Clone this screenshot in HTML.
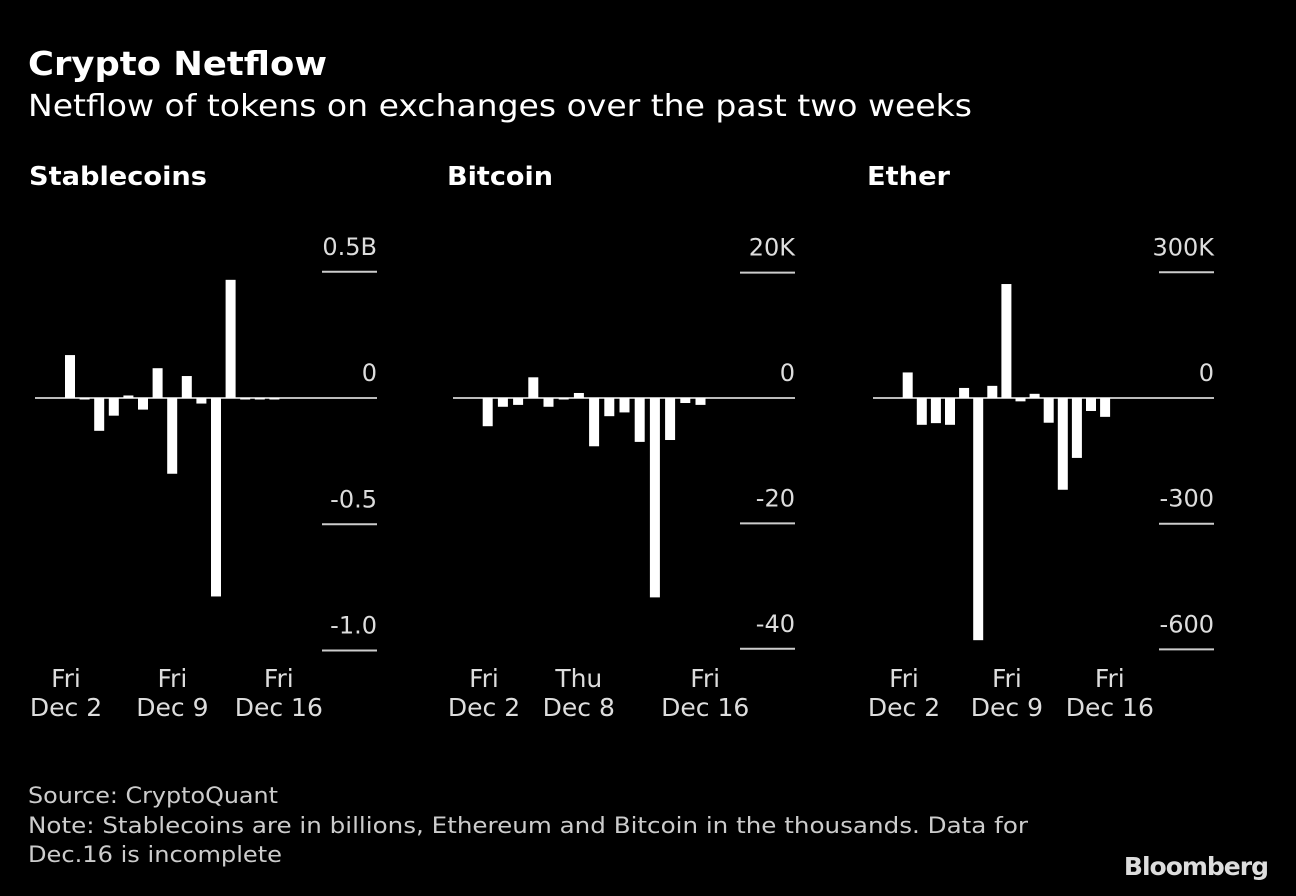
<!DOCTYPE html>
<html><head><meta charset="utf-8"><style>
body{margin:0;background:#000;width:1296px;height:892px;overflow:hidden;font-family:"DejaVu Sans",sans-serif;color:#fff}
svg text{font-family:"DejaVu Sans","Liberation Sans",sans-serif}
</style></head><body>
<svg id="c" width="1296" height="892" xmlns="http://www.w3.org/2000/svg">
<text x="28" y="75" font-size="33" font-weight="bold" fill="#fff" textLength="299" lengthAdjust="spacingAndGlyphs">Crypto Netflow</text>
<text x="28" y="116" font-size="30" fill="#fff" textLength="944" lengthAdjust="spacingAndGlyphs">Netflow of tokens on exchanges over the past two weeks</text>
<text x="28" y="803" font-size="22" fill="#ccc" textLength="250" lengthAdjust="spacingAndGlyphs">Source: CryptoQuant</text>
<text x="28" y="833" font-size="22" fill="#ccc" textLength="1000" lengthAdjust="spacingAndGlyphs">Note: Stablecoins are in billions, Ethereum and Bitcoin in the thousands. Data for</text>
<text x="28" y="862" font-size="22" fill="#ccc" textLength="254" lengthAdjust="spacingAndGlyphs">Dec.16 is incomplete</text>
<text x="1268" y="875" font-size="25" font-weight="bold" fill="#ddd" text-anchor="end" letter-spacing="-1">Bloomberg</text>
</svg>
<script>
const days = [2,3,4,5,6,7,8,9,10,11,12,13,14,15,16];
const stableValues = [0.17,-0.005,-0.13,-0.07,0.01,-0.046,0.118,-0.30,0.087,-0.022,-0.786,0.468,-0.005,-0.005,-0.005];
const bitcoinValues = [-4.5,-1.4,-1.1,3.3,-1.4,-0.2,0.8,-7.7,-2.9,-2.3,-7.0,-31.8,-6.7,-0.8,-1.1];
const etherValues = [61,-64,-60,-64,24,-578,29,272,-8,10,-59,-219,-143,-31,-45];
const stableTicks = [0.5,0,-0.5,-1.0];
const stableTickLabels = ["0.5B","0","-0.5","-1.0"];
const bitcoinTicks = [20,0,-20,-40];
const bitcoinTickLabels = ["20K","0","-20","-40"];
const etherTicks = [300,0,-300,-600];
const etherTickLabels = ["300K","0","-300","-600"];
const stableXLabels = [[2,"Fri","Dec 2"],[9,"Fri","Dec 9"],[16,"Fri","Dec 16"]];
const bitcoinXLabels = [[2,"Fri","Dec 2"],[8,"Thu","Dec 8"],[16,"Fri","Dec 16"]];
const etherXLabels = [[2,"Fri","Dec 2"],[9,"Fri","Dec 9"],[16,"Fri","Dec 16"]];

const svg = document.getElementById('c');
const NS = 'http://www.w3.org/2000/svg';
function mk(tag, attrs, parent){const e=document.createElementNS(NS,tag);for(const k in attrs)e.setAttribute(k,attrs[k]);parent.appendChild(e);return e;}

function panel(cfg){
  const g = mk('g',{},svg);
  
  
  const y = v => cfg.zeroY - v*cfg.pxPerUnit;
  const x = d => cfg.x0 + (d-2)*cfg.step;
  const lx = d => cfg.lx0 + (d-2)*cfg.lstep;
  const t = mk('text',{x:cfg.left-6,y:185,'font-size':26,'font-weight':'bold',fill:'#fff',textLength:cfg.titleLen,lengthAdjust:'spacingAndGlyphs'},g);
  t.textContent = cfg.title;
  
  
  const zl = mk('line',{x1:cfg.left,x2:cfg.right,y1:y(0),y2:y(0),stroke:'#bbb','stroke-width':2},g);
  
  
  cfg.ticks.forEach((v,i)=>{
    if(v!==0){
      const l = mk('line',{x1:cfg.right-55,x2:cfg.right,y1:y(v),y2:y(v),stroke:'#ccc','stroke-width':2},g);
      
      
    }
    const tx = mk('text',{x:cfg.right,y:y(v)-17,'font-size':24,fill:'#ddd','text-anchor':'end'},g);
    tx.textContent = cfg.tickLabels[i];
    
    
  });
  cfg.values.forEach((v,i)=>{
    const yy = y(v), y0 = y(0);
    const r = mk('rect',{x:x(days[i])-5,y:Math.min(yy,y0),width:10,height:Math.max(Math.abs(yy-y0),1.5),fill:'#fff'},g);
    
    
  });
  cfg.xLabels.forEach(([d,a,b])=>{
    const t1 = mk('text',{x:lx(d),y:687,'font-size':25,fill:'#ddd','text-anchor':'middle'},g);
    t1.textContent = a;
    
    
    const t2 = mk('text',{x:lx(d),y:716,'font-size':25,fill:'#ddd','text-anchor':'middle'},g);
    t2.textContent = b;
    
    
  });
}
panel({name:'stablecoins',title:'Stablecoins',titleLen:178,left:35,right:377,zeroY:398,pxPerUnit:252.5,x0:70,step:14.6,lx0:66,lstep:15.2,values:stableValues,ticks:stableTicks,tickLabels:stableTickLabels,xLabels:stableXLabels});
panel({name:'bitcoin',title:'Bitcoin',titleLen:106,left:453,right:795,zeroY:398,pxPerUnit:6.27,x0:487.7,step:15.2,lx0:484,lstep:15.8,values:bitcoinValues,ticks:bitcoinTicks,tickLabels:bitcoinTickLabels,xLabels:bitcoinXLabels});
panel({name:'ether',title:'Ether',titleLen:83,left:873,right:1214,zeroY:398,pxPerUnit:0.419,x0:907.7,step:14.1,lx0:904,lstep:14.7,values:etherValues,ticks:etherTicks,tickLabels:etherTickLabels,xLabels:etherXLabels});
</script>
</body></html>
